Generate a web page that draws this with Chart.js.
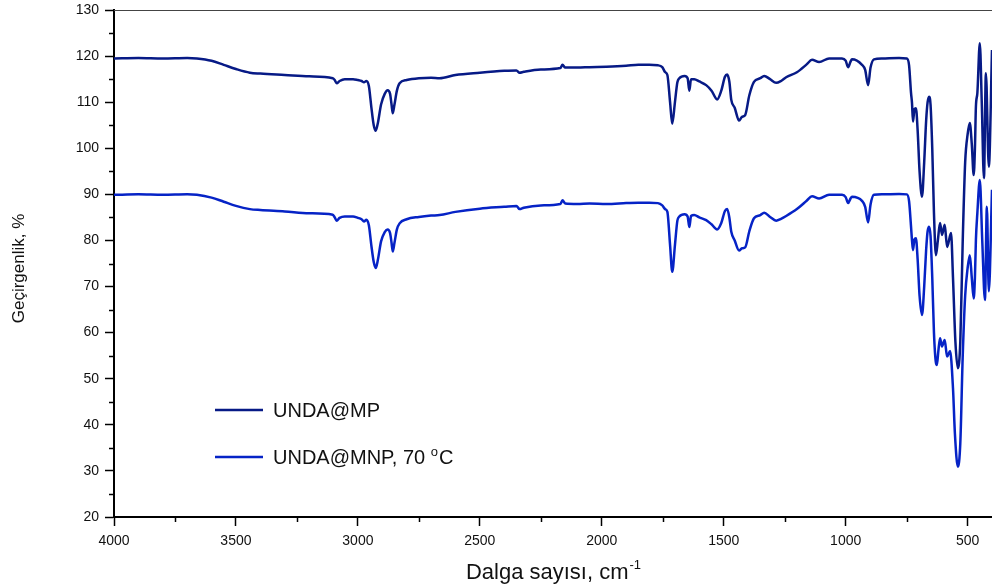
<!DOCTYPE html>
<html>
<head>
<meta charset="utf-8">
<script src="https://cdn.jsdelivr.net/npm/chart.js@4.4.1/dist/chart.umd.min.js"></script>
<style>
  html, body { margin: 0; padding: 0; background: #fff; }
</style>
</head>
<body>
<canvas id="ftirChart" width="992" height="587"></canvas>
<script>
// UNDA@MP spektrumu (dalga sayısı, geçirgenlik)
const mpWave = [4000, 3900, 3800, 3700, 3660, 3600, 3550, 3500, 3443, 3400, 3300, 3200, 3103, 3095, 3087, 3075, 3054, 3020, 3000, 2985, 2975, 2965, 2955, 2945, 2935, 2927, 2918, 2905, 2890, 2878, 2868, 2862, 2857, 2850, 2840, 2829, 2800, 2750, 2700, 2665, 2600, 2500, 2400, 2350, 2337, 2320, 2250, 2170, 2161, 2150, 2100, 2050, 1981, 1900, 1850, 1805, 1770, 1752, 1740, 1731, 1720, 1711, 1700, 1690, 1682, 1660, 1648, 1641, 1634, 1621, 1600, 1572, 1550, 1527, 1510, 1495, 1486, 1477, 1469, 1455, 1437, 1425, 1412, 1395, 1376, 1350, 1334, 1310, 1285, 1265, 1244, 1200, 1160, 1138, 1109, 1068, 1015, 1000, 990, 980, 974, 933, 920, 908, 898, 884, 850, 781, 749, 740, 732, 728, 724, 718, 712, 705, 697, 687, 678, 670, 664, 658, 652, 645, 638, 630, 622, 613, 605, 594, 584, 568, 560, 550, 540, 530, 520, 510, 500, 491, 483, 475, 470, 466, 460, 450, 442, 433, 425, 413, 400];
const mpTrans = [119.5, 119.6, 119.5, 119.6, 119.5, 119.0, 118.1, 117.2, 116.4, 116.2, 115.9, 115.6, 115.2, 114.8, 114.1, 114.6, 115.0, 115.0, 114.8, 114.6, 114.3, 114.6, 113.5, 109.0, 105.0, 103.8, 105.5, 109.5, 111.8, 112.6, 111.8, 109.5, 107.6, 109.5, 112.5, 114.1, 114.8, 115.2, 115.3, 115.2, 115.9, 116.4, 116.8, 116.9, 116.4, 116.6, 117.1, 117.4, 118.1, 117.5, 117.5, 117.6, 117.7, 117.9, 118.1, 118.1, 118.0, 117.6, 116.5, 115.9, 110.0, 105.3, 110.0, 114.3, 115.2, 115.7, 115.2, 112.5, 115.0, 115.0, 114.5, 113.7, 112.5, 110.6, 112.5, 115.5, 116.0, 114.5, 110.5, 108.8, 106.0, 106.8, 107.2, 111.5, 114.4, 115.2, 115.7, 115.0, 114.2, 114.6, 115.4, 116.5, 118.2, 119.2, 118.7, 119.5, 119.5, 119.0, 117.6, 118.8, 119.3, 118.1, 117.0, 113.7, 117.5, 119.3, 119.5, 119.6, 119.5, 118.0, 112.0, 109.8, 105.8, 108.5, 108.7, 104.0, 95.0, 89.5, 97.0, 106.0, 110.0, 111.2, 109.5, 100.0, 86.0, 76.8, 80.0, 83.8, 81.2, 83.4, 78.6, 81.6, 72.0, 58.0, 52.3, 58.0, 80.0, 97.0, 103.0, 105.5, 101.0, 94.2, 100.0, 109.0, 112.0, 122.8, 110.0, 93.5, 116.3, 96.0, 121.3];

// UNDA@MNP, 70 °C spektrumu
const mnpWave = [4000, 3900, 3800, 3700, 3660, 3600, 3550, 3500, 3443, 3400, 3300, 3200, 3103, 3095, 3087, 3075, 3054, 3020, 3000, 2985, 2975, 2965, 2955, 2945, 2935, 2927, 2918, 2905, 2890, 2878, 2868, 2862, 2857, 2850, 2840, 2829, 2800, 2750, 2700, 2665, 2600, 2500, 2400, 2350, 2337, 2320, 2250, 2170, 2161, 2150, 2100, 2050, 1981, 1900, 1850, 1805, 1770, 1752, 1740, 1731, 1720, 1711, 1700, 1690, 1682, 1660, 1648, 1641, 1634, 1621, 1600, 1572, 1550, 1527, 1510, 1495, 1486, 1477, 1469, 1455, 1437, 1425, 1412, 1395, 1376, 1350, 1334, 1310, 1285, 1265, 1244, 1200, 1160, 1138, 1109, 1068, 1015, 1000, 990, 980, 974, 933, 920, 908, 898, 884, 850, 781, 749, 740, 732, 728, 724, 718, 712, 705, 697, 687, 678, 670, 664, 658, 652, 645, 638, 630, 626, 620, 613, 605, 594, 584, 572, 560, 552, 540, 530, 520, 510, 500, 491, 483, 475, 470, 466, 460, 450, 440, 429, 421, 413, 400];
const mnpTrans = [89.9, 90.0, 89.9, 90.0, 89.9, 89.3, 88.4, 87.5, 86.8, 86.6, 86.3, 85.9, 85.6, 85.0, 84.3, 84.9, 85.2, 85.2, 84.9, 84.6, 84.1, 84.5, 83.3, 79.0, 75.3, 74.0, 75.8, 79.8, 81.8, 82.4, 81.6, 79.5, 77.6, 79.5, 82.4, 83.7, 84.6, 85.1, 85.4, 85.5, 86.2, 86.9, 87.3, 87.5, 86.8, 87.1, 87.6, 87.9, 88.7, 88.0, 87.9, 88.0, 87.9, 88.1, 88.2, 88.2, 88.1, 87.6, 86.8, 86.2, 79.0, 73.2, 79.0, 84.3, 85.2, 85.7, 85.2, 82.9, 85.3, 85.5, 85.0, 84.4, 83.5, 82.4, 83.8, 86.4, 86.8, 85.0, 81.9, 80.0, 77.8, 78.3, 78.5, 82.0, 84.8, 85.5, 86.0, 85.1, 84.3, 84.7, 85.3, 86.8, 88.6, 89.6, 89.1, 89.9, 89.9, 89.4, 88.1, 89.1, 89.5, 88.6, 87.3, 83.9, 87.8, 89.9, 90.0, 90.1, 90.0, 88.5, 83.0, 80.0, 77.9, 80.2, 80.5, 76.0, 68.0, 63.8, 70.0, 78.0, 82.0, 83.0, 81.0, 72.0, 60.0, 53.5, 53.0, 56.0, 58.8, 57.0, 58.4, 54.8, 56.0, 48.0, 38.0, 30.9, 36.0, 55.0, 68.0, 74.0, 76.8, 72.0, 67.4, 72.0, 80.1, 86.0, 93.1, 80.0, 67.1, 87.3, 69.0, 91.0];

const seriesNames = ['UNDA@MP', 'UNDA@MNP, 70 '];
const xTicks = [4000, 3500, 3000, 2500, 2000, 1500, 1000, 500];
const xMinorTicks = [3750, 3250, 2750, 2250, 1750, 1250, 750];
const yMinorTicks = [25, 35, 45, 55, 65, 75, 85, 95, 105, 115, 125];

const FONT = '"Liberation Sans", Arial, sans-serif';

function toPoints(waves, vals) {
    return waves.map((w, i) => ({ x: w, y: vals[i] }));
}

// eksen başlıkları, küçük çentikler, lejant
const decorPlugin = {
    id: 'decor',
    afterDraw(chart) {
        const ctx = chart.ctx;
        const area = chart.chartArea;
        const xs = chart.scales.x;
        const ys = chart.scales.y;

        ctx.save();
        // üst çerçeve
        ctx.strokeStyle = '#444';
        ctx.lineWidth = 1;
        ctx.beginPath();
        ctx.moveTo(area.left, Math.round(area.top) + 0.5);
        ctx.lineTo(area.right, Math.round(area.top) + 0.5);
        ctx.stroke();

        // küçük çentikler
        ctx.strokeStyle = '#000';
        ctx.lineWidth = 1.5;
        yMinorTicks.forEach(v => {
            const py = Math.round(ys.getPixelForValue(v)) + 0.5;
            ctx.beginPath();
            ctx.moveTo(area.left - 5, py);
            ctx.lineTo(area.left, py);
            ctx.stroke();
        });
        xMinorTicks.forEach(v => {
            const px = Math.round(xs.getPixelForValue(v)) + 0.5;
            ctx.beginPath();
            ctx.moveTo(px, area.bottom);
            ctx.lineTo(px, area.bottom + 5);
            ctx.stroke();
        });

        // x başlığı (üst simgeli)
        ctx.fillStyle = '#111';
        ctx.textBaseline = 'alphabetic';
        ctx.textAlign = 'left';
        const main = 'Dalga sayısı, cm';
        ctx.font = '22px ' + FONT;
        const wMain = ctx.measureText(main).width;
        ctx.font = '13px ' + FONT;
        const wSup = ctx.measureText('-1').width;
        const cx = (area.left + area.right) / 2;
        const tx = cx - (wMain + wSup) / 2;
        ctx.font = '22px ' + FONT;
        ctx.fillText(main, tx, 579);
        ctx.font = '13px ' + FONT;
        ctx.fillText('-1', tx + wMain + 1, 569);

        // y başlığı
        ctx.save();
        ctx.translate(24, (area.top + area.bottom) / 2 + 5);
        ctx.rotate(-Math.PI / 2);
        ctx.font = '17px ' + FONT;
        ctx.textAlign = 'center';
        ctx.fillText('Geçirgenlik, %', 0, 0);
        ctx.restore();

        // lejant
        const rows = [410, 457];
        chart.data.datasets.forEach((ds, i) => {
            const y = rows[i];
            ctx.strokeStyle = ds.borderColor;
            ctx.lineWidth = 2.5;
            ctx.beginPath();
            ctx.moveTo(215, y);
            ctx.lineTo(263, y);
            ctx.stroke();
            ctx.fillStyle = '#111';
            ctx.font = '20px ' + FONT;
            ctx.textAlign = 'left';
            ctx.textBaseline = 'middle';
            ctx.fillText(ds.label, 273, y + 1);
            if (i === 1) {
                const w = ctx.measureText(ds.label).width;
                ctx.font = '13px ' + FONT;
                ctx.fillText('o', 273 + w, y - 5);
                const wo = ctx.measureText('o').width;
                ctx.font = '20px ' + FONT;
                ctx.fillText('C', 273 + w + wo + 1, y + 1);
            }
        });
        ctx.restore();
    }
};

new Chart(document.getElementById('ftirChart'), {
    type: 'line',
    data: {
        datasets: [
            {
                label: seriesNames[0],
                data: toPoints(mpWave, mpTrans),
                borderColor: '#071a86',
                borderWidth: 2.5,
                pointRadius: 0,
                cubicInterpolationMode: 'monotone',
                fill: false
            },
            {
                label: seriesNames[1],
                data: toPoints(mnpWave, mnpTrans),
                borderColor: '#0623c6',
                borderWidth: 2.5,
                pointRadius: 0,
                cubicInterpolationMode: 'monotone',
                fill: false
            }
        ]
    },
    options: {
        responsive: false,
        animation: false,
        layout: { padding: { top: 10, right: 0, bottom: 0, left: 0 } },
        plugins: {
            legend: { display: false },
            tooltip: { enabled: false }
        },
        scales: {
            x: {
                type: 'linear',
                reverse: true,
                min: 400,
                max: 4000,
                afterFit(scale) { scale.height = 70; scale.paddingLeft = 0; scale.paddingRight = 0; },
                afterBuildTicks(scale) { scale.ticks = xTicks.map(v => ({ value: v })); },
                grid: { drawOnChartArea: false, drawTicks: true, tickLength: 9, color: '#000', tickWidth: 1.5 },
                border: { display: true, color: '#000', width: 2 },
                ticks: {
                    autoSkip: false,
                    maxRotation: 0,
                    padding: 7,
                    color: '#111',
                    font: { family: FONT, size: 14 },
                    callback: v => String(v)
                }
            },
            y: {
                min: 20,
                max: 130,
                afterFit(scale) { scale.width = 114; scale.paddingTop = 0; scale.paddingBottom = 0; },
                grid: { drawOnChartArea: false, drawTicks: true, tickLength: 9, color: '#000', tickWidth: 1.5 },
                border: { display: true, color: '#000', width: 2 },
                ticks: {
                    stepSize: 10,
                    padding: 6,
                    color: '#111',
                    font: { family: FONT, size: 14 }
                }
            }
        }
    },
    plugins: [decorPlugin]
});
</script>
</body>
</html>
